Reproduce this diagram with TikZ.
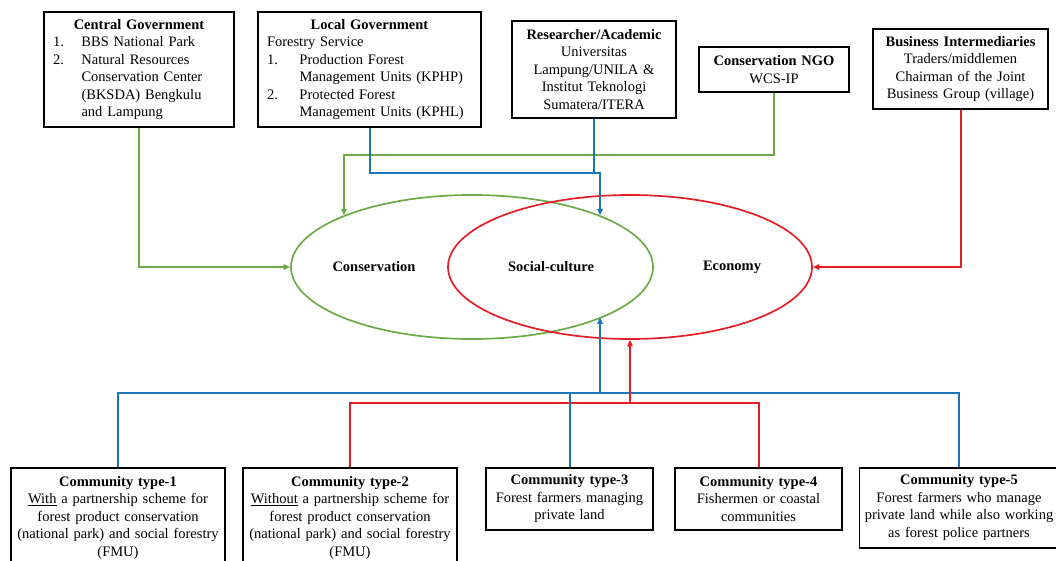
\documentclass[tikz,border=0pt]{standalone}
\usepackage{fontspec}
\setmainfont{Liberation Serif}
\usetikzlibrary{arrows.meta,shapes.geometric}
\definecolor{cgreen}{HTML}{6AAB47}
\definecolor{cblue}{HTML}{1B75BB}
\definecolor{cred}{HTML}{E41E26}
\begin{document}
\begin{tikzpicture}[x=1pt,y=-1pt,
  box/.style={draw=black, line width=1.5pt, fill=white, font=\fontsize{14.5}{17.5}\selectfont, inner xsep=4pt, inner ysep=0pt, align=center},
  conn/.style={line width=2pt},
  tip/.style={-{Triangle[length=6.5pt,width=5.5pt]}},
  lab/.style={font=\bfseries\fontsize{14.5}{17.5}\selectfont},
  venn/.style={ellipse, line width=1.7pt, inner sep=0pt, minimum height=144pt}]
\useasboundingbox (0,0) rectangle (1056,561);

% Venn ellipses
\node[venn, draw=cgreen, minimum width=362pt] (cons) at (472,267) {};
\node[venn, draw=cred, minimum width=364pt] (econ) at (630,267) {};
\node[lab] (lcons) at (374,267) {Conservation};
\node[lab] (lsoc) at (551,267) {Social-culture};
\node[lab] (lecon) at (732,267) {Economy};

% Top boxes
\node[box, minimum width=190pt, minimum height=115pt, text width=172pt, inner xsep=9pt, align=left] (cg) at (139,69.5)
 {\makebox[\linewidth]{\bfseries Central Government}\\
  \makebox[28.5pt][l]{1.}BBS National Park\\
  \makebox[28.5pt][l]{2.}Natural Resources\\
  \hspace*{28.5pt}Conservation Center\\
  \hspace*{28.5pt}(BKSDA) Bengkulu\\
  \hspace*{28.5pt}and Lampung};
\node[box, minimum width=223pt, minimum height=115pt, text width=205pt, inner xsep=9pt, align=left] (lg) at (369.5,69.5)
 {\makebox[\linewidth]{\bfseries Local Government}\\
  Forestry Service\\
  \makebox[32.5pt][l]{1.}Production Forest\\
  \hspace*{32.5pt}Management Units (KPHP)\\
  \makebox[32.5pt][l]{2.}Protected Forest\\
  \hspace*{32.5pt}Management Units (KPHL)};
\node[box, minimum width=164pt, minimum height=97pt, text width=156pt] (ra) at (594,69.5)
 {\textbf{Researcher/Academic}\\ Universitas\\ Lampung/UNILA \&\\ Institut Teknologi\\ Sumatera/ITERA};
\node[box, minimum width=150pt, minimum height=45pt, text width=142pt] (ngo) at (774,69.5)
 {\textbf{Conservation NGO}\\ WCS-IP};
\node[box, minimum width=175pt, minimum height=80pt, text width=167pt] (bi) at (960.5,69)
 {\textbf{Business Intermediaries}\\ Traders/middlemen\\ Chairman of the Joint\\ Business Group (village)};

% Bottom boxes
\node[box, anchor=north, minimum width=214pt, minimum height=100pt, text width=206pt] (c1) at (118,467)
 {\textbf{Community type-1}\\ \underline{With} a partnership scheme for\\ forest product conservation\\ (national park) and social forestry\\ (FMU)};
\node[box, anchor=north, minimum width=214pt, minimum height=100pt, text width=206pt] (c2) at (350,467)
 {\textbf{Community type-2}\\ \underline{Without} a partnership scheme for\\ forest product conservation\\ (national park) and social forestry\\ (FMU)};
\node[box, anchor=north, minimum width=167pt, minimum height=62pt, text width=159pt] (c3) at (569.5,467)
 {\textbf{Community type-3}\\ Forest farmers managing\\ private land};
\node[box, anchor=north, minimum width=167pt, minimum height=62pt, text width=159pt] (c4) at (758.5,467)
 {\textbf{Community type-4}\\ Fishermen or coastal\\ communities};
\node[box, anchor=north, minimum width=199pt, minimum height=80pt, text width=193pt, inner xsep=3pt] (c5) at (959,467)
 {\textbf{Community type-5}\\ Forest farmers who manage\\ private land while also working\\ as forest police partners};

% Top connectors
\draw[conn, cgreen, tip] (cg.south) |- (cons.west);
\draw[conn, cgreen, tip] (ngo.south) -- ++(0,62) -| (cons.158.6);
\draw[conn, cblue, tip] (lg.south) -- ++(0,45) -| (cons.22);
\draw[conn, cblue] (ra.south) -- (ra.south |- 0,172);
\draw[conn, cred, tip] (bi.south) |- (econ.east);

% Bottom connectors
\coordinate (bt) at (600,393);
\coordinate (rt) at (630,403);
\draw[conn, cblue] (c1.north) -- ++(0,-74) -| (c5.north);
\draw[conn, cred] (c2.north) -- ++(0,-64) -| (c4.north);
\draw[conn, cblue] (c3.north) -- (c3.north |- bt);
\draw[conn, cblue, tip] (bt) -- (bt |- cons.-21.7);
\draw[conn, cred, tip] (rt) -- (econ.south);
\end{tikzpicture}
\end{document}
